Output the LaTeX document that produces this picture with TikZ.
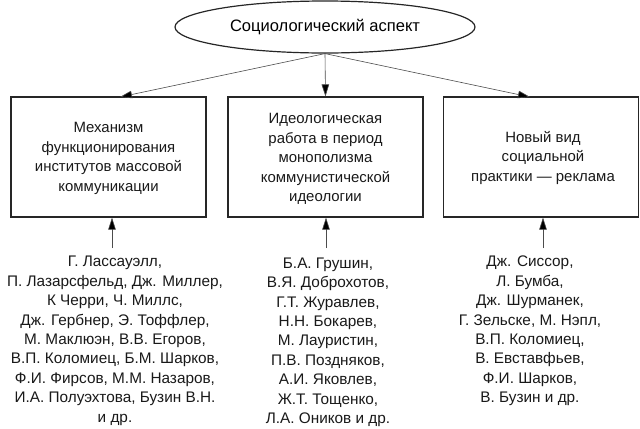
\documentclass[tikz,border=0pt]{standalone}
\usepackage{fontspec}
\setmainfont{Liberation Sans}
\usetikzlibrary{shapes.geometric,arrows.meta}
\begin{document}
\begin{tikzpicture}[x=0.75pt,y=-0.75pt,
  txt/.style={font=\fontsize{11.2}{14.6}\selectfont, align=center, inner sep=0pt, text=black!90},
  names/.style={font=\fontsize{11.5}{14.55}\selectfont, align=center, inner sep=0pt, text=black!90},
  box/.style={draw=black!85, line width=0.9pt, minimum width=146.25pt, minimum height=90pt, inner sep=0pt},
  arr/.style={draw=black!70, line width=0.45pt, -{Triangle[length=9pt,width=5.6pt,fill=black]}}]
\useasboundingbox (0,0) rectangle (640,429);
\node[ellipse, draw=black!85, line width=0.9pt, minimum width=225pt, minimum height=39pt, inner sep=0pt,
  font=\fontsize{12.4}{14.6}\selectfont] (ell) at (325,27) {Социологический аспект};
\node[box] (b1) at (108.5,157) {};
\node[box] (b2) at (325.5,157) {};
\node[box] (b3) at (541,157) {};
\node[txt] (t1) at (108.5,158.5) {Механизм\\функционирования\\институтов массовой\\коммуникации};
\node[txt] (t2) at (325.5,159) {Идеологическая\\работа в период\\монополизма\\коммунистической\\идеологии};
\node[txt] (t3) at (543,158) {Новый вид\\социальной\\практики — реклама};
\coordinate (a1) at (120,97);
\coordinate (a3) at (530,97);
\draw[arr] (ell.south) -- (a1);
\draw[arr] (ell.south) -- (b2.north);
\draw[arr] (ell.south) -- (a3);
\node[names, anchor=north] (n1) at (115,256) {Г. Лассауэлл,\\П. Лазарсфельд, Дж. Миллер,\\К Черри, Ч. Миллс,\\Дж. Гербнер, Э. Тоффлер,\\М. Маклюэн, В.В. Егоров,\\В.П. Коломиец, Б.М. Шарков,\\Ф.И. Фирсов, М.М. Назаров,\\И.А. Полуэхтова, Бузин В.Н.\\и др.};
\node[names, anchor=north] (n2) at (328,257.5) {Б.А. Грушин,\\В.Я. Доброхотов,\\Г.Т. Журавлев,\\Н.Н. Бокарев,\\М. Лауристин,\\П.В. Поздняков,\\А.И. Яковлев,\\Ж.Т. Тощенко,\\Л.А. Оников и др.};
\node[names, anchor=north] (n3) at (530,256) {Дж. Сиссор,\\Л. Бумба,\\Дж. Шурманек,\\Г. Зельске, М. Нэпл,\\В.П. Коломиец,\\В. Евставфьев,\\Ф.И. Шарков,\\В. Бузин и др.};
\coordinate (s1) at (112,248);
\coordinate (s2) at (326,248);
\coordinate (s3) at (543,248);
\draw[arr] (s1) -- (s1 |- b1.south);
\draw[arr] (s2) -- (s2 |- b2.south);
\draw[arr] (s3) -- (s3 |- b3.south);
\end{tikzpicture}
\end{document}
